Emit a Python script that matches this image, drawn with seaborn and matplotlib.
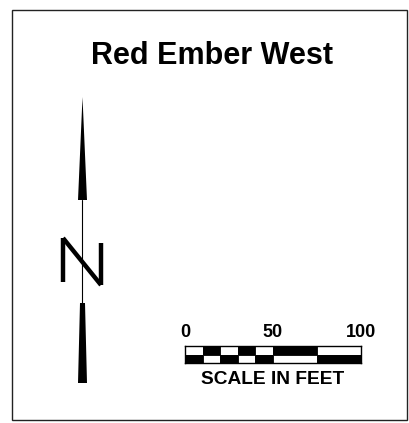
import matplotlib
matplotlib.use("Agg")
import matplotlib.pyplot as plt
import seaborn as sns
import numpy as np

sns.set_theme(style="white")
plt.rcParams['font.family'] = ['Liberation Sans', 'DejaVu Sans']

title = "Red Ember West"
scale_edges = [0, 10, 20, 30, 40, 50, 75, 100]
top_colors = ["white", "black", "white", "black", "white", "black", "white"]
bottom_colors = ["black", "white", "black", "white", "black", "white", "black"]
tick_values = [0, 50, 100]
tick_labels = ["0", "50", "100"]
scale_caption = "SCALE IN FEET"

W, H = 410, 423
fig = plt.figure(figsize=(W / 100, H / 100), dpi=100)
fig.patch.set_facecolor("white")
ax = fig.add_axes([0, 0, 1, 1])
ax.set_xlim(0, W)
ax.set_ylim(H, 0)
ax.axis("off")

# frame
ax.add_patch(plt.Rectangle((12, 10), 395, 410, fill=False, edgecolor="#222222", linewidth=1.0))

# title
ax.text(212.5, 64, title, ha="center", va="baseline", fontsize=22, fontweight="bold", color="black")

# north arrow
cx = 82.5
ax.add_patch(plt.Polygon([(cx, 97), (cx - 4.5, 200), (cx + 4.5, 200)], closed=True, color="black", lw=0))
ax.plot([cx, cx], [200, 303], color="black", lw=0.8)
ax.add_patch(plt.Polygon([(cx - 2.5, 303), (cx + 2.5, 303), (cx + 4.5, 383), (cx - 4.5, 383)],
                         closed=True, color="black", lw=0))
# N letter
ax.plot([63, 63], [282, 238], color="black", lw=3.2, solid_capstyle="butt")
ax.plot([63, 101], [238, 285], color="black", lw=3.2, solid_capstyle="butt")
ax.plot([101, 101], [285, 243], color="black", lw=3.2, solid_capstyle="butt")

# scale bar axes
sax = fig.add_axes([185 / W, 1 - 363 / H, 176 / W, 17 / H])
sax.set_xlim(0, 100)
sax.set_ylim(0, 2)
left = np.array(scale_edges[:-1])
widths = np.diff(scale_edges)
sax.barh([1.5] * len(left), widths, left=left, height=1, color=top_colors, edgecolor="black", linewidth=0.6)
sax.barh([0.5] * len(left), widths, left=left, height=1, color=bottom_colors, edgecolor="black", linewidth=0.6)
sax.set_xticks([])
sax.set_yticks([])
for s in sax.spines.values():
    s.set_visible(True)
    s.set_color("black")
    s.set_linewidth(1.0)

for v, lab in zip(tick_values, tick_labels):
    sax.text(v, 2.0 + 9 / 8.5, lab, ha="center", va="baseline", fontsize=13, fontweight="bold",
             color="black", transform=sax.transData, clip_on=False)
sax.text(50, -21 / 8.5, scale_caption, ha="center", va="baseline", fontsize=13.8, fontweight="bold",
         color="black", clip_on=False)

fig.savefig("out.png", dpi=100, facecolor="white")
